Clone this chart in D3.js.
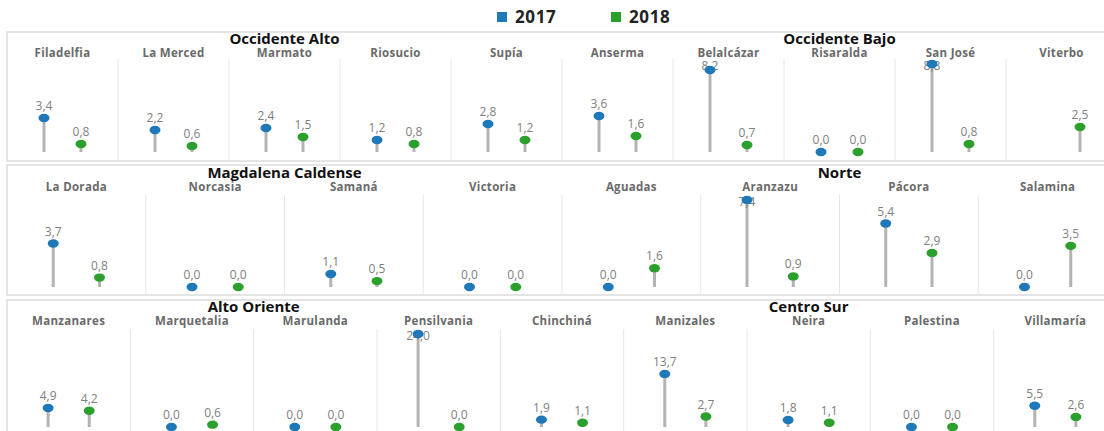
<!DOCTYPE html>
<html>
<head>
<meta charset="utf-8">
<script src="https://cdn.jsdelivr.net/npm/d3@7"></script>
<style>
  html, body { margin: 0; padding: 0; background: #fff; }
  svg { display: block; font-family: "Open Sans", "Noto Sans", sans-serif; }
</style>
</head>
<body>
<svg id="chart" width="1104" height="431"></svg>
<script>
// Regiones de Caldas, agrupadas por fila del tablero
const series = ["2017", "2018"];
const regiones = ["Occidente Alto", "Occidente Bajo", "Magdalena Caldense", "Norte", "Alto Oriente", "Centro Sur"];
const filaRegion = [0, 0, 1, 1, 2, 2];
const municipios = [
  ["Filadelfia", "La Merced", "Marmato", "Riosucio", "Supía"],
  ["Anserma", "Belalcázar", "Risaralda", "San José", "Viterbo"],
  ["La Dorada", "Norcasia", "Samaná", "Victoria"],
  ["Aguadas", "Aranzazu", "Pácora", "Salamina"],
  ["Manzanares", "Marquetalia", "Marulanda", "Pensilvania"],
  ["Chinchiná", "Manizales", "Neira", "Palestina", "Villamaría"]
];
const valores2017 = [
  [3.4, 2.2, 2.4, 1.2, 2.8],
  [3.6, 8.2, 0.0, 8.8, null],
  [3.7, 0.0, 1.1, 0.0],
  [0.0, 7.4, 5.4, 0.0],
  [4.9, 0.0, 0.0, 24.0],
  [1.9, 13.7, 1.8, 0.0, 5.5]
];
const valores2018 = [
  [0.8, 0.6, 1.5, 0.8, 1.2],
  [1.6, 0.7, 0.0, 0.8, 2.5],
  [0.8, 0.0, 0.5, 0.0],
  [1.6, 0.9, 2.9, 3.5],
  [4.2, 0.6, 0.0, 0.0],
  [1.1, 2.7, 1.1, 0.0, 2.6]
];

const colores = { "2017": "#1f78b8", "2018": "#2ca02c" };

const svg = d3.select("#chart");

// Geometría de cada fila (panel)
const panelX0 = 7, panelX1 = 1117;
const filas = [
  { top: 32,  bottom: 161, title: 44,  label: 57,  sep: 59,  yTop: 64,  base: 152 },
  { top: 165, bottom: 295, title: 178, label: 191, sep: 195, yTop: 200, base: 287 },
  { top: 300, bottom: 446, title: 312, label: 325, sep: 329, yTop: 334, base: 427 }
];

// Leyenda
const leyenda = svg.append("g");
const legX = d3.scaleOrdinal().domain(series).range([497, 611]);
series.forEach(s => {
  leyenda.append("rect").attr("x", legX(s)).attr("y", 12).attr("width", 10).attr("height", 10)
    .attr("fill", colores[s]);
  leyenda.append("text").attr("x", legX(s) + 18).attr("y", 23)
    .attr("font-size", 17).attr("font-weight", 700).attr("letter-spacing", 0.6)
    .attr("fill", "#222").text(s);
});

filas.forEach((f, fi) => {
  const idxs = regiones.map((r, i) => i).filter(i => filaRegion[i] === fi);
  const cols = [];
  idxs.forEach(ri => municipios[ri].forEach((m, j) => cols.push({
    region: ri, name: m, v: { "2017": valores2017[ri][j], "2018": valores2018[ri][j] }
  })));

  const x = d3.scaleBand().domain(cols.map(c => c.name)).range([panelX0, panelX1]);
  const xs = d3.scalePoint().domain(series).range([0, x.bandwidth()]).padding(1);
  const maxV = d3.max(cols, c => d3.max(series, s => c.v[s]));
  const y = d3.scaleLinear().domain([0, maxV]).range([f.base, f.yTop]);

  const g = svg.append("g");

  // marco del panel
  g.append("rect").attr("x", panelX0).attr("y", f.top)
    .attr("width", panelX1 - panelX0).attr("height", f.bottom - f.top)
    .attr("fill", "none").attr("stroke", "#dcdcdc").attr("stroke-width", 1.5);

  // separadores entre municipios
  g.selectAll("line.sep").data(cols.slice(1)).join("line")
    .attr("x1", d => x(d.name)).attr("x2", d => x(d.name))
    .attr("y1", f.sep).attr("y2", f.bottom)
    .attr("stroke", "#e6e6e6").attr("stroke-width", 1);

  // títulos de región
  idxs.forEach(ri => {
    const ms = municipios[ri];
    const x0 = x(ms[0]), x1 = x(ms[ms.length - 1]) + x.bandwidth();
    g.append("text").attr("x", (x0 + x1) / 2).attr("y", f.title)
      .attr("text-anchor", "middle").attr("font-size", 15).attr("font-weight", 700)
      .attr("fill", "#111").text(regiones[ri]);
  });

  // nombres de municipios
  g.selectAll("text.mun").data(cols).join("text")
    .attr("x", d => x(d.name) + x.bandwidth() / 2).attr("y", f.label)
    .attr("text-anchor", "middle").attr("font-size", 11.5).attr("font-weight", 700)
    .attr("letter-spacing", 0.3)
    .attr("fill", "#6a6a6a").text(d => d.name);

  const pts = [];
  cols.forEach(c => series.forEach(s => {
    if (c.v[s] !== null && c.v[s] !== undefined)
      pts.push({ name: c.name, s, v: c.v[s] });
  }));

  // tallos
  g.selectAll("line.stem").data(pts).join("line")
    .attr("x1", d => x(d.name) + xs(d.s)).attr("x2", d => x(d.name) + xs(d.s))
    .attr("y1", y(0)).attr("y2", d => y(d.v))
    .attr("stroke", "#b3b3b3").attr("stroke-width", 3);

  // etiquetas de valor
  const fmt = v => d3.format(".1f")(v).replace(".", ",");
  g.selectAll("text.val").data(pts).join("text")
    .attr("x", d => x(d.name) + xs(d.s))
    .attr("y", d => Math.max(y(d.v) - 8, f.yTop + 6))
    .attr("text-anchor", "middle").attr("font-size", 12)
    .attr("fill", "#808080").text(d => fmt(d.v));

  // puntos
  g.selectAll("ellipse.dot").data(pts).join("ellipse")
    .attr("cx", d => x(d.name) + xs(d.s)).attr("cy", d => y(d.v))
    .attr("rx", 5.5).attr("ry", 4.2)
    .attr("fill", d => colores[d.s]);
});
</script>
</body>
</html>
